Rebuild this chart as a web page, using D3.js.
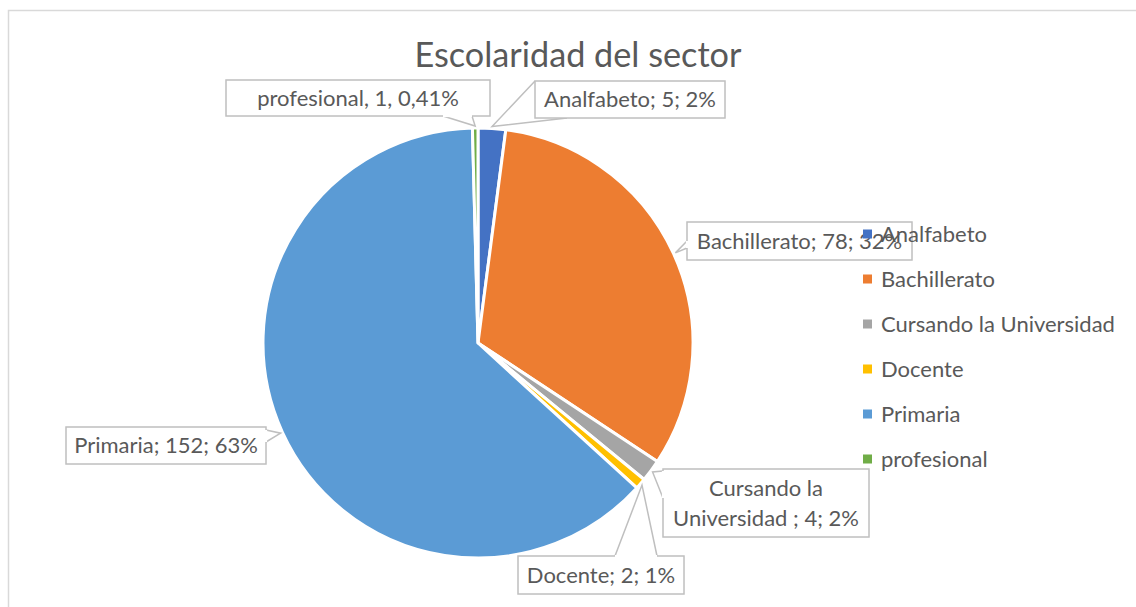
<!DOCTYPE html>
<html>
<head>
<meta charset="utf-8">
<script src="https://cdn.jsdelivr.net/npm/d3@7"></script>
<style>
  html, body { margin: 0; padding: 0; background: #ffffff; }
  svg { display: block; }
</style>
</head>
<body>
<svg id="chart" width="1136" height="607"></svg>
<script>
// ---------- data ----------
const categories = ["Analfabeto", "Bachillerato", "Cursando la Universidad", "Docente", "Primaria", "profesional"];
const values = [5, 78, 4, 2, 152, 1];
const percentLabels = ["2%", "32%", "2%", "1%", "63%", "0,41%"];
const labelLines = [
  ["Analfabeto; 5; 2%"],
  ["Bachillerato; 78; 32%"],
  ["Cursando la", "Universidad ; 4; 2%"],
  ["Docente; 2; 1%"],
  ["Primaria; 152; 63%"],
  ["profesional, 1, 0,41%"]
];
const colors = ["#4472C4", "#ED7D31", "#A5A5A5", "#FFC000", "#5B9BD5", "#70AD47"];
const title = "Escolaridad del sector";

// ---------- layout ----------
const W = 1136, H = 607;
const cx = 478, cy = 343, R = 215;
const FONT = "Lato, 'Open Sans', sans-serif";
const TEXT = "#595959";
const BOX = "#BFBFBF";

// callout boxes (layout) and pointer base points
const callouts = [
  {x: 535, y: 81, w: 190, h: 37, a: [535, 81], b: [567, 118], open: false},
  {x: 687, y: 222, w: 225, h: 38, a: [687, 241], b: [687, 248], open: true},
  {x: 663, y: 469, w: 206, h: 68, a: [663, 471], b: [663, 498], open: true},
  {x: 518, y: 556, w: 166, h: 38, a: [615, 556], b: [657, 556], open: true},
  {x: 66, y: 427, w: 200, h: 37, a: [266, 430], b: [266, 442], open: true},
  {x: 226, y: 80, w: 264, h: 36, a: [443, 116], b: [472, 116], open: true}
];

const svg = d3.select("#chart");

// font sizing to match reference metrics
function measure(str, size) {
  const t = svg.append("text").attr("font-family", FONT).attr("font-size", size).text(str);
  const w = t.node().getComputedTextLength();
  t.remove();
  return w;
}
const labelSize = 100 * 234 / measure("Cursando la Universidad", 100);
const titleSize = 100 * 327 / measure(title, 100);

// chart area border
svg.append("rect")
  .attr("x", 8.5).attr("y", 10.5).attr("width", W + 20).attr("height", H + 20)
  .attr("fill", "#fff").attr("stroke", "#D9D9D9").attr("stroke-width", 1.5);

// title
svg.append("text")
  .attr("x", 578).attr("y", 67)
  .attr("text-anchor", "middle")
  .attr("font-family", FONT).attr("font-size", titleSize)
  .attr("fill", TEXT)
  .text(title);

// pie
const data = categories.map((c, i) => ({cat: c, value: values[i], i}));
const pie = d3.pie().value(d => d.value).sort(null).startAngle(0).endAngle(2 * Math.PI);
const arcs = pie(data);
const arc = d3.arc().innerRadius(0).outerRadius(R);
const tipArc = d3.arc().innerRadius(R + 2).outerRadius(R + 2);

const g = svg.append("g").attr("transform", `translate(${cx},${cy})`);
g.selectAll("path.slice")
  .data(arcs)
  .join("path")
  .attr("class", "slice")
  .attr("d", arc)
  .attr("fill", d => colors[d.data.i])
  .attr("stroke", "#fff")
  .attr("stroke-width", 3)
  .attr("stroke-linejoin", "round");

// callouts
const lab = svg.append("g");
arcs.forEach(d => {
  const i = d.data.i;
  const c = callouts[i];
  const [tx, ty] = tipArc.centroid(d);
  const tip = [cx + tx, cy + ty];
  const cg = lab.append("g");
  cg.append("path")
    .attr("d", `M${c.a[0]},${c.a[1]}L${tip[0]},${tip[1]}L${c.b[0]},${c.b[1]}`)
    .attr("fill", "#fff").attr("stroke", BOX).attr("stroke-width", 1.5);
  cg.append("rect")
    .attr("x", c.x).attr("y", c.y).attr("width", c.w).attr("height", c.h)
    .attr("fill", "#fff").attr("stroke", BOX).attr("stroke-width", 1.5);
  if (c.open) {
    cg.append("line")
      .attr("x1", c.a[0]).attr("y1", c.a[1]).attr("x2", c.b[0]).attr("y2", c.b[1])
      .attr("stroke", "#fff").attr("stroke-width", 2.2);
  }
  const lines = labelLines[i];
  const lh = 30;
  const midY = c.y + c.h / 2;
  lines.forEach((ln, k) => {
    cg.append("text")
      .attr("x", c.x + c.w / 2)
      .attr("y", midY + (k - (lines.length - 1) / 2) * lh + labelSize * 0.36)
      .attr("text-anchor", "middle")
      .attr("font-family", FONT).attr("font-size", labelSize)
      .attr("fill", TEXT)
      .text(ln);
  });
});

// legend (drawn on top)
const leg = svg.append("g");
const legX = 863, legY0 = 234, legStep = 45, mk = 9;
categories.forEach((c, i) => {
  const y = legY0 + i * legStep;
  leg.append("rect")
    .attr("x", legX).attr("y", y - mk / 2).attr("width", mk).attr("height", mk)
    .attr("fill", colors[i]);
  leg.append("text")
    .attr("x", 881).attr("y", y + labelSize * 0.36)
    .attr("font-family", FONT).attr("font-size", labelSize)
    .attr("fill", TEXT)
    .text(c);
});
</script>
</body>
</html>
